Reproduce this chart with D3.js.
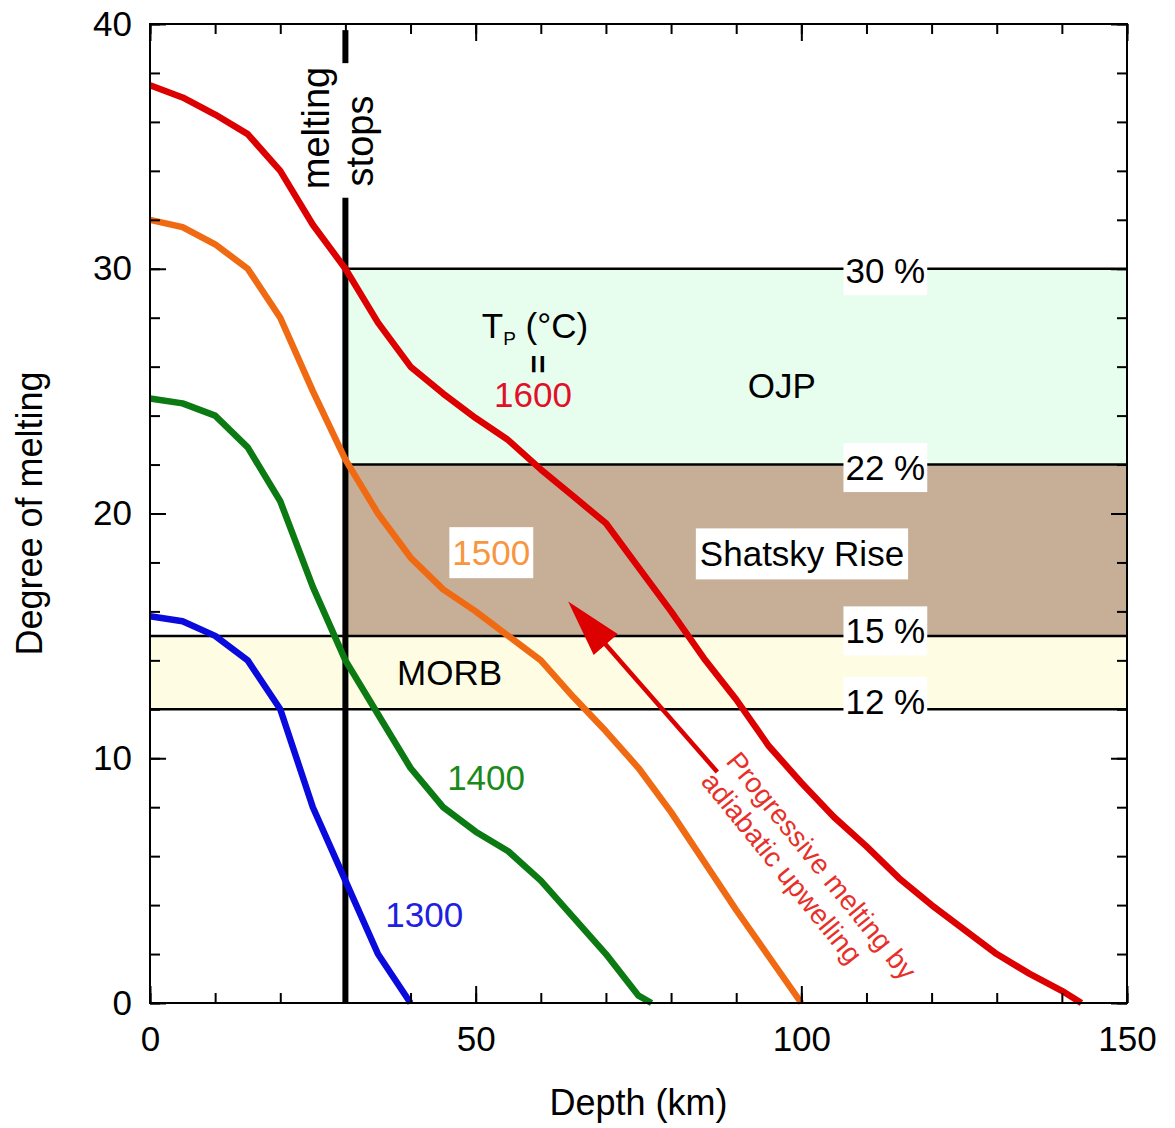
<!DOCTYPE html>
<html><head><meta charset="utf-8">
<script src="https://cdn.jsdelivr.net/npm/d3@7"></script>
<style>body{margin:0;background:#fff} text{font-family:"Liberation Sans",Arial,Helvetica,sans-serif}</style>
</head><body>
<svg id="c" width="1175" height="1128"></svg>
<script>
// ---- data ----
const depth1600 = [0,5,10,15,20,25,30,35,40,45,50,55,60,65,70,75,80,85,90,95,100,105,110,115,120,125,130,135,140,143];
const melt1600  = [37.5,37.0,36.3,35.5,34.0,31.8,30.0,27.8,26.0,24.9,23.9,23.0,21.8,20.7,19.6,17.8,16.0,14.1,12.4,10.5,9.0,7.6,6.4,5.1,4.0,3.0,2.0,1.2,0.5,0];
const depth1500 = [0,5,10,15,20,25,30,35,40,45,50,55,60,65,70,75,80,85,90,95,100];
const melt1500  = [32.0,31.7,31.0,30.0,28.0,25.0,22.2,20.0,18.2,16.9,16.0,15.0,14.0,12.5,11.1,9.6,7.8,5.8,3.8,1.9,0];
const depth1400 = [0,5,10,15,20,25,30,35,40,45,50,55,60,65,70,75,77];
const melt1400  = [24.7,24.5,24.0,22.7,20.5,17.0,14.0,11.8,9.6,8.0,7.0,6.2,5.0,3.5,2.0,0.3,0];
const depth1300 = [0,5,10,15,20,25,30,35,40];
const melt1300  = [15.8,15.6,15.0,14.0,12.0,8.0,5.0,2.0,0];
const temps = ["1600","1500","1400","1300"];

const bandLow   = [12,15,22];
const bandHigh  = [15,22,30];
const bandStart = [0,30,30];
const bandNames = ["MORB","Shatsky Rise","OJP"];
const pctLevels = [30,22,15,12];
const pctLabels = ["30 %","22 %","15 %","12 %"];
const meltStopDepth = 30;
const xMajor = [0,50,100,150];
const yMajor = [0,10,20,30,40];

// ---- setup ----
const svg = d3.select("#c");
const L=150,R=1127,T=24,B=1003;
const x = d3.scaleLinear([0,150],[L,R]);
const y = d3.scaleLinear([0,40],[B,T]);
const bandColors = ["#FEFDE4","#C7AF97","#E7FDEE"];
const lineColors = ["#DC0000","#F06A14","#0C7A12","#0A0ADC"];
const labelColors = ["#E0102A","#F7963E","#1A8A1A","#2020E0"];
const pctShift = [2,3,-5,-8];

// bands
const bands = bandLow.map((lo,i)=>({lo,hi:bandHigh[i],start:bandStart[i],name:bandNames[i]}));
svg.append("g").selectAll("rect").data(bands).join("rect")
  .attr("x",d=>x(d.start)).attr("width",d=>x(150)-x(d.start))
  .attr("y",d=>y(d.hi)).attr("height",d=>y(d.lo)-y(d.hi))
  .attr("fill",(d,i)=>bandColors[i]);

// band boundary lines
const lvlStart = {30:30,22:30,15:0,12:0};
svg.append("g").selectAll("line").data(pctLevels).join("line")
  .attr("x1",d=>x(lvlStart[d])).attr("x2",x(150))
  .attr("y1",d=>y(d)).attr("y2",d=>y(d))
  .attr("stroke","#000").attr("stroke-width",2.5);

// melting stops line
const stopSegs = [[0,32.9],[38.4,39.75]];
svg.append("g").selectAll("line").data(stopSegs).join("line")
  .attr("x1",x(meltStopDepth)).attr("x2",x(meltStopDepth))
  .attr("y1",d=>y(d[0])).attr("y2",d=>y(d[1]))
  .attr("stroke","#000").attr("stroke-width",6);

// curves
const series = [
  {d:depth1600,m:melt1600},{d:depth1500,m:melt1500},{d:depth1400,m:melt1400},{d:depth1300,m:melt1300}
];
const line = d3.line().x(p=>x(p[0])).y(p=>y(p[1]));
svg.append("g").selectAll("path").data(series).join("path")
  .attr("d",s=>line(s.d.map((v,i)=>[v,s.m[i]])))
  .attr("fill","none").attr("stroke",(s,i)=>lineColors[i])
  .attr("stroke-width",6.5).attr("stroke-linejoin","round");

// axes
function styleAxis(g){ g.select(".domain").remove(); g.selectAll("line").attr("stroke","#000").attr("stroke-width",2);
  g.selectAll("text").attr("font-size",35).attr("fill","#000").attr("font-family",'"Liberation Sans",Arial,sans-serif'); }
const xMinor = d3.range(0,151,10), yMinor = d3.range(0,41,2);
svg.append("g").attr("transform",`translate(0,${B})`).call(d3.axisBottom(x).tickValues(xMinor).tickSize(-10).tickFormat("")).call(styleAxis);
svg.append("g").attr("transform",`translate(0,${B})`).call(d3.axisBottom(x).tickValues(xMajor).tickSize(-17).tickPadding(23).tickFormat(d3.format("d"))).call(styleAxis);
svg.append("g").attr("transform",`translate(0,${T})`).call(d3.axisTop(x).tickValues(xMinor).tickSize(-10).tickFormat("")).call(styleAxis);
svg.append("g").attr("transform",`translate(0,${T})`).call(d3.axisTop(x).tickValues(xMajor).tickSize(-17).tickFormat("")).call(styleAxis);
svg.append("g").attr("transform",`translate(${L},0)`).call(d3.axisLeft(y).tickValues(yMinor).tickSize(-10).tickFormat("")).call(styleAxis);
svg.append("g").attr("transform",`translate(${L},0)`).call(d3.axisLeft(y).tickValues(yMajor).tickSize(-16).tickPadding(18).tickFormat(d3.format("d"))).call(styleAxis);
svg.append("g").attr("transform",`translate(${R},0)`).call(d3.axisRight(y).tickValues(yMinor).tickSize(-10).tickFormat("")).call(styleAxis);
svg.append("g").attr("transform",`translate(${R},0)`).call(d3.axisRight(y).tickValues(yMajor).tickSize(-16).tickFormat("")).call(styleAxis);
svg.append("rect").attr("x",L).attr("y",T).attr("width",R-L).attr("height",B-T).attr("fill","none").attr("stroke","#000").attr("stroke-width",2);

// axis titles
svg.append("text").attr("x",(L+R)/2).attr("y",1115).attr("text-anchor","middle").attr("font-size",36).text("Depth (km)");
svg.append("text").attr("transform",`translate(42,${(T+B)/2}) rotate(-90)`).attr("text-anchor","middle").attr("font-size",36).text("Degree of melting");

// helper: text with white box
function boxedText(g,tx,ty,str,size,color,padX,padY){
  const t = g.append("text").attr("x",tx).attr("y",ty).attr("text-anchor","middle").attr("dominant-baseline","central")
    .attr("font-size",size).attr("fill",color).text(str);
  const bb = t.node().getBBox();
  g.insert("rect","text").attr("x",bb.x-padX).attr("y",bb.y-padY).attr("width",bb.width+2*padX).attr("height",bb.height+2*padY).attr("fill","#fff");
  return t;
}

// percentage labels
pctLevels.forEach((v,i)=>{
  boxedText(svg.append("g"),x(112.9),y(v)+pctShift[i],pctLabels[i],35,"#000",2,5);
});

// band names
svg.append("text").attr("x",x(46)).attr("y",y(13.5)).attr("text-anchor","middle").attr("dominant-baseline","central").attr("font-size",35).text(bandNames[0]);
boxedText(svg.append("g"),x(100.1),y(18.35),bandNames[1],35,"#000",4,6);
svg.append("text").attr("x",x(97)).attr("y",y(25.25)).attr("text-anchor","middle").attr("dominant-baseline","central").attr("font-size",35).text(bandNames[2]);

// curve labels
const tlabPos = [[58.8,24.85],[52.4,18.4],[51.6,9.23],[42.1,3.6]];
temps.forEach((t,i)=>{
  if(i===1){ boxedText(svg.append("g"),x(tlabPos[i][0]),y(tlabPos[i][1]),t,35,labelColors[i],3,6); }
  else svg.append("text").attr("x",x(tlabPos[i][0])).attr("y",y(tlabPos[i][1])).attr("text-anchor","middle").attr("dominant-baseline","central").attr("font-size",35).attr("fill",labelColors[i]).text(t);
});

// Tp label
const tp = svg.append("text").attr("x",x(59.1)).attr("y",y(27.7)).attr("text-anchor","middle").attr("dominant-baseline","central").attr("font-size",35);
tp.append("tspan").text("T");
tp.append("tspan").attr("font-size",19).attr("dy",13).text("P");
tp.append("tspan").attr("dy",-13).text(" (°C)");
svg.append("text").attr("transform",`translate(${x(59.6)},${y(26.1)}) rotate(90)`).attr("text-anchor","middle").attr("dominant-baseline","central").attr("font-size",32).attr("font-weight","bold").text("=");

// melting stops text
svg.append("text").attr("transform",`translate(329,128) rotate(-90)`).attr("text-anchor","middle").attr("font-size",38).text("melting");
svg.append("text").attr("transform",`translate(373,141) rotate(-90)`).attr("text-anchor","middle").attr("font-size",38).text("stops");

// arrow
const arrowFrom = [87.1,9.44], arrowTo = [64.2,16.4];
const ax1=x(arrowFrom[0]), ay1=y(arrowFrom[1]), ax2=x(arrowTo[0]), ay2=y(arrowTo[1]);
const len=Math.hypot(ax2-ax1,ay2-ay1), ux=(ax2-ax1)/len, uy=(ay2-ay1)/len;
const hl=57, hw=16;
const bx=ax2-ux*hl, by=ay2-uy*hl;
svg.append("line").attr("x1",ax1).attr("y1",ay1).attr("x2",bx+ux*5).attr("y2",by+uy*5).attr("stroke","#DC0000").attr("stroke-width",4.5);
svg.append("path").attr("d",`M${ax2},${ay2}L${bx-uy*hw},${by+ux*hw}L${bx+uy*hw},${by-ux*hw}Z`).attr("fill","#DC0000");

// arrow annotation
const ann = svg.append("g").attr("transform","translate(742,748) rotate(51)");
ann.append("text").attr("x",0).attr("y",22).attr("font-size",28).attr("fill","#E8302A").text("Progressive melting by");
ann.append("text").attr("x",0).attr("y",54).attr("font-size",28).attr("fill","#E8302A").text("adiabatic upwelling");
</script>
</body></html>
